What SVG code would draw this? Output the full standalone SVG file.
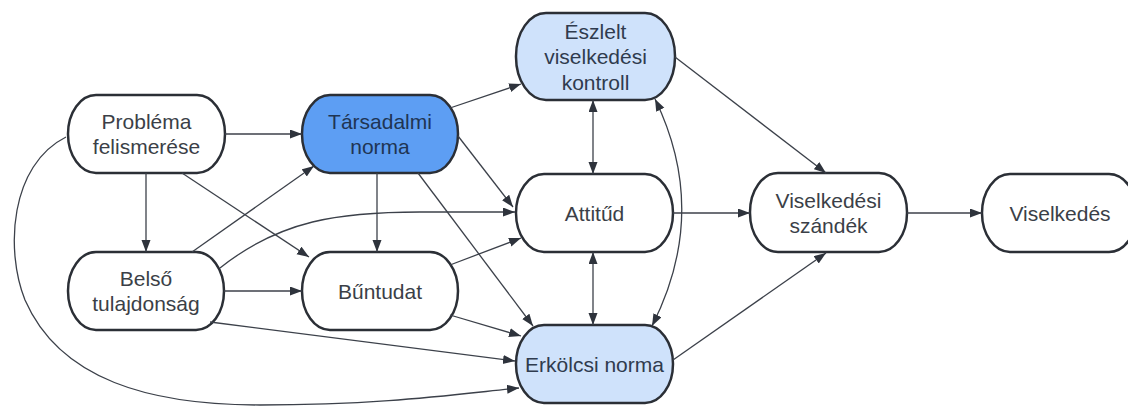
<svg xmlns="http://www.w3.org/2000/svg" width="1128" height="407" viewBox="0 0 1128 407">
  <style>
    .node { stroke: #2b2f36; stroke-width: 2.5; fill: #ffffff; }
    .dark { fill: #5d9ef3; }
    .light { fill: #cfe2fb; }
    .lbl { font-family: "Liberation Sans", Arial, sans-serif; font-size: 21px; fill: #3b3f47; text-anchor: middle; }
    .lbl-dark { fill: #1f3553; }
    .lbl-light { fill: #2f3b4e; }
    .edge { fill: none; stroke: #3c414a; stroke-width: 1.3; }
    .one { marker-end: url(#arrow); }
    .two { marker-start: url(#arrow); marker-end: url(#arrow); }
  </style>
  <defs>
    <marker id="arrow" markerUnits="userSpaceOnUse" markerWidth="13" markerHeight="10" refX="12" refY="4.5" orient="auto-start-reverse">
      <path d="M0,0 L12,4.5 L0,9 z" fill="#2e333c"/>
    </marker>
  </defs>

  <rect width="1128" height="407" fill="#ffffff"/>

  <!-- nodes -->
  <g id="problema">
    <rect class="node" x="68" y="95" width="157" height="78" rx="28" ry="39"/>
    <text class="lbl" x="146.5" y="129">Probléma</text>
    <text class="lbl" x="146.5" y="154">felismerése</text>
  </g>
  <g id="tarsadalmi">
    <rect class="node dark" x="302" y="95" width="156" height="78" rx="28" ry="39"/>
    <text class="lbl lbl-dark" x="380" y="129">Társadalmi</text>
    <text class="lbl lbl-dark" x="380" y="154">norma</text>
  </g>
  <g id="eszlelt">
    <rect class="node light" x="516" y="13" width="159" height="87" rx="30" ry="43"/>
    <text class="lbl lbl-light" x="595.5" y="38.5">Észlelt</text>
    <text class="lbl lbl-light" x="595.5" y="64">viselkedési</text>
    <text class="lbl lbl-light" x="595.5" y="89.5">kontroll</text>
  </g>
  <g id="attitud">
    <rect class="node" x="516" y="174" width="157" height="78" rx="28" ry="39"/>
    <text class="lbl" x="594.5" y="220.5">Attitűd</text>
  </g>
  <g id="belso">
    <rect class="node" x="68" y="252" width="156" height="78" rx="28" ry="39"/>
    <text class="lbl" x="146" y="286">Belső</text>
    <text class="lbl" x="146" y="311">tulajdonság</text>
  </g>
  <g id="buntudat">
    <rect class="node" x="302" y="252" width="156" height="78" rx="28" ry="39"/>
    <text class="lbl" x="380" y="298.5">Bűntudat</text>
  </g>
  <g id="erkolcsi">
    <rect class="node light" x="516" y="325" width="157" height="78" rx="28" ry="39"/>
    <text class="lbl lbl-light" x="594.5" y="371.5">Erkölcsi norma</text>
  </g>
  <g id="szandek">
    <rect class="node" x="750" y="173" width="157" height="79" rx="28" ry="39"/>
    <text class="lbl" x="828.5" y="207.5">Viselkedési</text>
    <text class="lbl" x="828.5" y="232.5">szándék</text>
  </g>
  <g id="viselkedes">
    <rect class="node" x="982" y="174" width="155" height="78" rx="28" ry="39"/>
    <text class="lbl" x="1060" y="220.5">Viselkedés</text>
  </g>

  <!-- connectors -->
  <g id="connectors">
    <path class="edge one" d="M225,134 L302,134"/>
    <path class="edge one" d="M146,173 L146,252"/>
    <path class="edge one" d="M182,173 L309,257"/>
    <path class="edge one" d="M192,252 L314,166"/>
    <path class="edge one" d="M220,268 C280,220 340,212 420,212 L515,212"/>
    <path class="edge one" d="M224,291 L302,291"/>
    <path class="edge one" d="M210,322 L515,361"/>
    <path class="edge one" d="M377,173 L377,252"/>
    <path class="edge one" d="M458,136 L513,207"/>
    <path class="edge one" d="M450,108 L521,84"/>
    <path class="edge one" d="M418,173 L533,326"/>
    <path class="edge one" d="M450,265 L521,238"/>
    <path class="edge one" d="M450,315 L521,336"/>
    <path class="edge two" d="M593,100 L593,174"/>
    <path class="edge two" d="M593,252 L593,325"/>
    <path class="edge two" d="M655,99 Q710,212 652,326"/>
    <path class="edge one" d="M66,137 C10,165 5,250 25,300 C60,380 150,405 260,405 C380,405 450,395 519,388"/>
    <path class="edge one" d="M675,57 L826,173"/>
    <path class="edge one" d="M673,213 L750,213"/>
    <path class="edge one" d="M673,360 L826,253"/>
    <path class="edge one" d="M907,213 L982,213"/>
  </g>
</svg>
